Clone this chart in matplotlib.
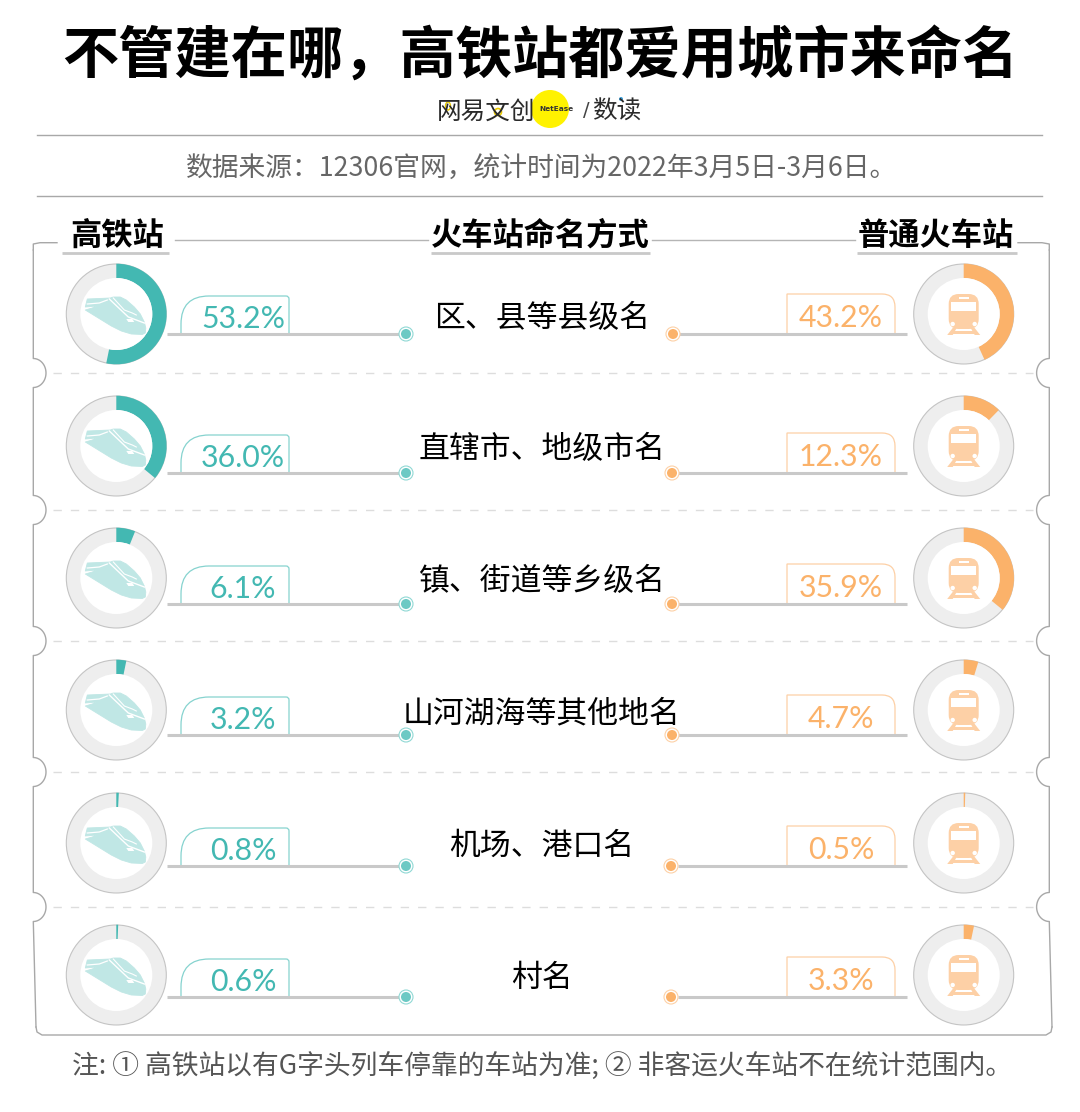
import numpy as np
import matplotlib
matplotlib.use('Agg')
import matplotlib.pyplot as plt
from matplotlib.patches import Circle, Wedge, Polygon, FancyBboxPatch, Rectangle, Ellipse, PathPatch
from matplotlib.path import Path

plt.rcParams['font.family'] = ['Noto Sans CJK SC', 'DejaVu Sans']

# 数据
categories = ['区、县等县级名', '直辖市、地级市名', '镇、街道等乡级名', '山河湖海等其他地名', '机场、港口名', '村名']
hsr_share = [53.2, 36.0, 6.1, 3.2, 0.8, 0.6]
normal_share = [43.2, 12.3, 35.9, 4.7, 0.5, 3.3]

title = '不管建在哪，高铁站都爱用城市来命名'
source = '数据来源：12306官网，统计时间为2022年3月5日-3月6日。'
note = '注: ① 高铁站以有G字头列车停靠的车站为准; ② 非客运火车站不在统计范围内。'

TEAL = '#43b8b2'
TEAL_LIGHT = '#c0e7e5'
ORANGE = '#fbb26a'
ORANGE_LIGHT = '#fdd0a6'
GRAY = '#c9c9c9'
RING = '#eeeeee'
FRAME = '#a8a8a8'

# 每一行的圆心y、横线y
ring_y = [314, 446, 578, 710, 843, 975]
line_y = [334, 473, 604, 735, 866, 997]
tab_top = [296, 435, 566, 697, 828, 959]
name_y = [316, 447, 579, 711, 843, 975]
sep_y = [373, 510, 641, 772, 907]
node_x = [673, 672, 672, 672, 671, 671]
HSR_X, NORMAL_X = 116.3, 963.7

fig = plt.figure(figsize=(10.8, 11.12), dpi=100)
ax = fig.add_axes([0, 0, 1, 1])
ax.set_xlim(0, 1080)
ax.set_ylim(1112, 0)
ax.axis('off')


def donut(cx, cy, share, color):
    ax.add_patch(Circle((cx, cy), 50, fc=RING, ec='#c4c4c4', lw=0.8))
    ax.add_patch(Wedge((cx, cy), 50.3, -90, -90 + share * 3.6, width=14.3, fc=color, ec='none'))
    ax.add_patch(Circle((cx, cy), 36, fc='white', ec='none'))


def hsr_icon(cx, cy):
    # 高铁车头
    pts = [(-29, -15), (-6, -16), (-3, -17), (4, -17), (10, -14), (18, -7), (24, 0), (28, 8), (29.5, 14),
           (29, 19), (26, 20.5), (15, 20), (5, 17), (-5, 12), (-31, -4), (-24, -6), (-20, -8), (-31, -7)]
    ax.add_patch(Polygon([(cx + x, cy + y) for x, y in pts], fc=TEAL_LIGHT, ec=TEAL_LIGHT, lw=0.6, joinstyle='round'))
    ax.plot([cx - 29, cx - 17, cx - 9], [cy - 10, cy - 11, cy - 14], color='white', lw=0.9)
    ax.plot([cx - 7, cx + 12, cx + 28], [cy - 15, cy + 3, cy + 9], color='white', lw=1)
    ax.plot([cx - 3, cx + 8, cx + 16, cx + 20], [cy - 16, cy - 4, cy - 1, cy + 1], color='white', lw=0.8)
    ax.add_patch(Polygon([(cx + 10, cy + 5), (cx + 16, cy + 5), (cx + 18, cy + 8), (cx + 12, cy + 8)], fc='white', ec='none'))


def train_icon(cx, cy):
    # 普通火车
    ax.add_patch(FancyBboxPatch((cx - 15, cy - 20), 30, 35, boxstyle='round,pad=0,rounding_size=10', fc=ORANGE_LIGHT, ec='none'))
    ax.add_patch(Rectangle((cx - 12.5, cy - 12), 25, 8.5, fc='white', ec='none'))
    ax.add_patch(Rectangle((cx - 5, cy - 17), 10, 2, fc='white', ec='none'))
    ax.add_patch(Circle((cx - 11, cy + 10), 2.2, fc='white', ec='none'))
    ax.add_patch(Circle((cx + 11, cy + 10), 2.2, fc='white', ec='none'))
    ax.add_patch(Polygon([(cx - 11, cy + 14), (cx - 7, cy + 14), (cx - 11, cy + 21), (cx - 16.5, cy + 21)], fc=ORANGE_LIGHT, ec='none'))
    ax.add_patch(Polygon([(cx + 11, cy + 14), (cx + 7, cy + 14), (cx + 11, cy + 21), (cx + 16.5, cy + 21)], fc=ORANGE_LIGHT, ec='none'))
    ax.add_patch(Rectangle((cx - 12, cy + 17), 24, 2.5, fc=ORANGE_LIGHT, ec='none'))


def node(x, y, color, edge):
    ax.add_patch(Circle((x, y), 7, fc='white', ec=edge, lw=0.8, zorder=4))
    ax.add_patch(Circle((x, y), 5, fc=color, ec='none', zorder=5))


def tab_left(top, base, color):
    # 左上大圆角的百分比框
    verts = [(181, base), (181, top + 28), (181, top), (209, top), (286, top), (289, top), (289, top + 3), (289, base)]
    codes = [Path.MOVETO, Path.LINETO, Path.CURVE3, Path.CURVE3, Path.LINETO, Path.CURVE3, Path.CURVE3, Path.LINETO]
    ax.add_patch(PathPatch(Path(verts, codes), fc='none', ec=color, lw=0.9))


def tab_right(top, base, color):
    verts = [(787, base), (787, top), (882, top), (895, top), (895, top + 13), (895, base)]
    codes = [Path.MOVETO, Path.LINETO, Path.LINETO, Path.CURVE3, Path.CURVE3, Path.LINETO]
    ax.add_patch(PathPatch(Path(verts, codes), fc='none', ec=color, lw=0.9))


def frame_side(x, sign, y_end, x_end):
    # 票根两侧的缺口
    xs, ys = [], []
    y = 250
    for ny in sep_y:
        xs += [x, x]
        ys += [y, ny - 14.5]
        t = np.linspace(-np.pi / 2, np.pi / 2, 30)
        xs += list(x + sign * 12.7 * np.cos(t))
        ys += list(ny + 14.5 * np.sin(t))
        y = ny + 14.5
    xs += [x, x_end]
    ys += [y, y_end]
    ax.plot(xs, ys, color=FRAME, lw=1)


# 标题区
ax.text(540, 56, title, fontsize=40.5, fontweight='black', ha='center', va='center', color='black')
ax.plot([37, 1042], [135, 135], color=FRAME, lw=1)
ax.plot([37, 1042], [196, 196], color=FRAME, lw=1)
ax.text(542, 169, source, fontsize=19.3, ha='center', va='center', color='#666666')

# logo
ax.add_patch(Circle((550, 109), 19, fc='#fff200', ec='none'))
ax.text(486, 112, '网易文创', fontsize=17.7, ha='center', va='center', color='#2a2a2a')
ax.add_patch(Circle((498, 112), 3.5, fc='none', ec='#e8c800', lw=1.2))
ax.add_patch(Ellipse((448, 106), 5, 8, fc='none', ec='#e8c800', lw=1))
ax.text(556, 109, 'NetEase', fontsize=5.3, fontweight='bold', ha='center', va='center', color='#333333', family='DejaVu Sans')
ax.text(586, 111, '/', fontsize=14, ha='center', va='center', color='#444444', family='DejaVu Sans')
ax.text(617, 112, '数读', fontsize=17.7, ha='center', va='center', color='#2a2a2a')
ax.add_patch(Circle((621, 99), 2, fc='#3aa0dc', ec='none'))

# 外框
ax.plot([175, 428], [240, 240], color='#b5b5b5', lw=1)
ax.plot([652, 855], [240, 240], color='#b5b5b5', lw=1)
frame_side(33.3, 1, 1027, 36)
frame_side(1049.3, -1, 1027, 1052)
for xs in ([57, 40, 33.3, 33.3], [1018, 1042, 1049.3, 1049.3]):
    ax.plot(xs, [242.7, 242.7, 244, 250], color=FRAME, lw=1)
ax.plot([36, 37, 42, 1046, 1051, 1052], [1027, 1032, 1035, 1035, 1032, 1027], color=FRAME, lw=1)

for sy in sep_y:
    ax.plot([53, 1033], [sy, sy], color='#dddddd', lw=1, dashes=(6, 6.5))

# 表头
ax.text(117, 236, '高铁站', fontsize=22.5, fontweight='bold', ha='center', va='center', color='black')
ax.text(540, 236, '火车站命名方式', fontsize=22.5, fontweight='bold', ha='center', va='center', color='black')
ax.text(936, 236, '普通火车站', fontsize=22.5, fontweight='bold', ha='center', va='center', color='black')
for x0, x1 in [(62, 169), (431, 650), (857, 1017)]:
    ax.plot([x0, x1], [253, 253], color=GRAY, lw=2, solid_capstyle='butt')

# 每一行
for i, cat in enumerate(categories):
    cy = ring_y[i]
    ly = line_y[i]
    donut(HSR_X, cy, hsr_share[i], TEAL)
    donut(NORMAL_X, cy, normal_share[i], ORANGE)
    hsr_icon(HSR_X, cy)
    train_icon(NORMAL_X, cy)
    ax.plot([167, 400], [ly, ly], color=GRAY, lw=2.2, solid_capstyle='butt')
    ax.plot([678, 907], [ly, ly], color=GRAY, lw=2.2, solid_capstyle='butt')
    node(406, ly, '#6cc9c4', '#8fd8d4')
    node(node_x[i], ly, ORANGE, ORANGE_LIGHT)
    tab_left(tab_top[i], ly, '#86d3cf')
    tab_right(tab_top[i] - 2, ly, ORANGE_LIGHT)
    ax.text(243, ly - 15, '%.1f%%' % hsr_share[i], fontsize=21.8, ha='center', va='center', color=TEAL, family='Lato')
    ax.text(841, ly - 16, '%.1f%%' % normal_share[i], fontsize=21.8, ha='center', va='center', color=ORANGE, family='Lato')
    ax.text(542, name_y[i] + 3, cat, fontsize=22.2, ha='center', va='center', color='black')

ax.text(542, 1067, note, fontsize=19.3, ha='center', va='center', color='#555555')

fig.savefig('out.png', dpi=100, facecolor='white')
